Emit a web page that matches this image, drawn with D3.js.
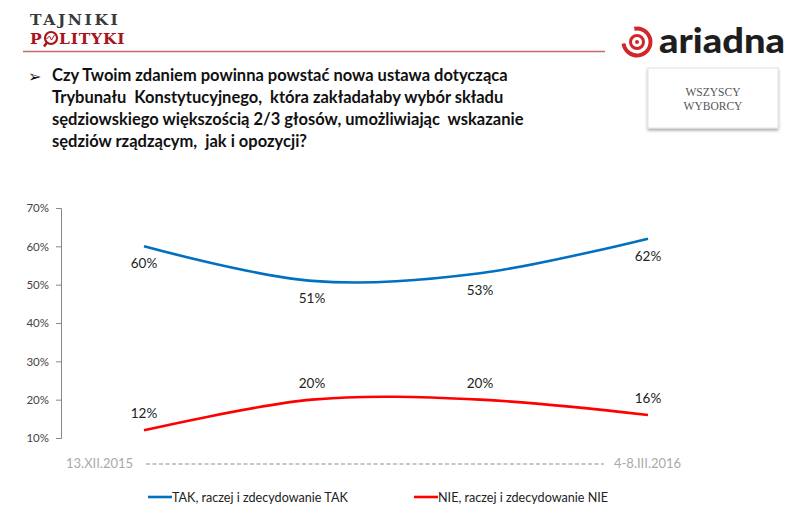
<!DOCTYPE html>
<html><head><meta charset="utf-8">
<script src="https://cdn.jsdelivr.net/npm/d3@7"></script>
<style>
html,body{margin:0;padding:0;background:#fff;}
svg{display:block;}
</style></head>
<body>
<svg id="chart" width="788" height="528"></svg>
<script>
// ---- data ----
const waves = ["13.XII.2015", "fala 2", "fala 3", "4-8.III.2016"];
const takValues = [60, 51, 53, 62];
const nieValues = [12, 20, 20, 16];
const seriesNames = ["TAK, raczej i zdecydowanie TAK", "NIE, raczej i zdecydowanie NIE"];
const yTicks = [10, 20, 30, 40, 50, 60, 70];
const titleLines = [
  "Czy Twoim zdaniem powinna powstać nowa ustawa dotycząca",
  "Trybunału  Konstytucyjnego,  która zakładałaby wybór składu",
  "sędziowskiego większością 2/3 głosów, umożliwiając  wskazanie",
  "sędziów rządzącym,  jak i opozycji?"
];

const svg = d3.select("#chart");
const font = "Lato, 'Open Sans', sans-serif";

// ---- header ----
svg.append("text").attr("x", 30).attr("y", 25).attr("font-family", "'DejaVu Serif', serif")
  .attr("font-weight", "bold").attr("font-size", 15.5).attr("fill", "#3a3a3a")
  .attr("letter-spacing", 2.6).text("TAJNIKI");
const pol = svg.append("g");
pol.append("text").attr("x", 30).attr("y", 44).attr("font-family", "'DejaVu Serif', serif")
  .attr("font-weight", "bold").attr("font-size", 15.5).attr("fill", "#a8141c").text("P");
pol.append("circle").attr("cx", 51).attr("cy", 38).attr("r", 6).attr("fill", "none")
  .attr("stroke", "#a8141c").attr("stroke-width", 2.2);
pol.append("path").attr("d", "M46.5,39 L49.5,36 L51.5,40 L54.5,35").attr("fill", "none")
  .attr("stroke", "#a8141c").attr("stroke-width", 1);
pol.append("line").attr("x1", 47).attr("y1", 42.5).attr("x2", 44).attr("y2", 46.5)
  .attr("stroke", "#a8141c").attr("stroke-width", 2.5);
pol.append("text").attr("x", 59).attr("y", 44).attr("font-family", "'DejaVu Serif', serif")
  .attr("font-weight", "bold").attr("font-size", 15.5).attr("fill", "#a8141c")
  .attr("letter-spacing", 0.8).text("LITYKI");
svg.append("line").attr("x1", 23).attr("x2", 605).attr("y1", 51.5).attr("y2", 51.5)
  .attr("stroke", "#c46a6a").attr("stroke-width", 1.5);

// ariadna logo
const logo = svg.append("g");
const arc = d3.arc();
logo.append("path").attr("transform", "translate(637,42)")
  .attr("d", arc({innerRadius: 11.5, outerRadius: 15.5, startAngle: -0.2, endAngle: 4.6}))
  .attr("fill", "#d0272b");
logo.append("circle").attr("cx", 637).attr("cy", 42).attr("r", 6.5).attr("fill", "none")
  .attr("stroke", "#d0272b").attr("stroke-width", 3);
logo.append("circle").attr("cx", 637).attr("cy", 42).attr("r", 2).attr("fill", "#d0272b");
logo.append("text").attr("x", 659).attr("y", 53).attr("font-family", "Lato, sans-serif")
  .attr("font-weight", "900").attr("font-size", 35).attr("fill", "#1e1e1e")
  .attr("textLength", 126).attr("lengthAdjust", "spacingAndGlyphs").text("ariadna");

// box WSZYSCY WYBORCY
const defs = svg.append("defs");
const f = defs.append("filter").attr("id", "sh").attr("x", "-20%").attr("y", "-20%").attr("width", "140%").attr("height", "150%");
f.append("feDropShadow").attr("dx", 0).attr("dy", 2).attr("stdDeviation", 1.5).attr("flood-color", "#000").attr("flood-opacity", 0.35);
svg.append("rect").attr("x", 648).attr("y", 68).attr("width", 130).attr("height", 60)
  .attr("fill", "#fff").attr("stroke", "#e2e2e2").attr("filter", "url(#sh)");
["WSZYSCY", "WYBORCY"].forEach((t, i) => {
  svg.append("text").attr("x", 713).attr("y", 96 + i * 14).attr("text-anchor", "middle")
    .attr("font-family", "'Liberation Serif', serif").attr("font-size", 11.5).attr("fill", "#555")
    .text(t);
});

// ---- title ----
svg.append("text").attr("x", 28).attr("y", 82).attr("font-family", "'DejaVu Sans', sans-serif")
  .attr("font-size", 16).attr("fill", "#111").text("➢");
titleLines.forEach((t, i) => {
  svg.append("text").attr("x", 52).attr("y", 81 + i * 22).attr("font-family", font)
    .attr("font-weight", "bold").attr("font-size", 16.5).attr("fill", "#111")
    .attr("xml:space", "preserve").style("white-space", "pre").text(t);
});

// ---- chart ----
const x = d3.scalePoint().domain(waves).range([144, 648]);
const y = d3.scaleLinear().domain([10, 70]).range([438, 208]);

const yAxis = d3.axisLeft(y).tickValues(yTicks).tickFormat(d => d + "%").tickSize(5).tickPadding(7);
const ga = svg.append("g").attr("transform", "translate(61,0)").call(yAxis);
ga.select(".domain").attr("stroke", "#888").attr("stroke-width", 1);
ga.selectAll(".tick line").attr("stroke", "#888");
ga.selectAll(".tick text").attr("font-family", font).attr("font-size", 11.5).attr("fill", "#444");

const line = d3.line().x((d, i) => x(waves[i])).y(d => y(d)).curve(d3.curveCatmullRom.alpha(0.5));

const series = [
  {values: takValues, color: "#0070c0", dy: 22},
  {values: nieValues, color: "#ff0000", dy: -12}
];
series.forEach(s => {
  svg.append("path").datum(s.values).attr("d", line).attr("fill", "none")
    .attr("stroke", s.color).attr("stroke-width", 2.6).attr("stroke-linecap", "butt");
  svg.append("g").selectAll("text").data(s.values).join("text")
    .attr("x", (d, i) => x(waves[i]))
    .attr("y", d => y(d) + s.dy)
    .attr("text-anchor", "middle").attr("font-family", font).attr("font-size", 13.5)
    .attr("fill", "#222").text(d => d + "%");
});

// date range row
const firstLast = [waves[0], waves[waves.length - 1]];
svg.append("text").attr("x", 66).attr("y", 468).attr("font-family", font).attr("font-size", 13)
  .attr("fill", "#aaa").text(firstLast[0]);
svg.append("line").attr("x1", 146).attr("x2", 604).attr("y1", 464).attr("y2", 464)
  .attr("stroke", "#b5b5b5").attr("stroke-width", 1.6).attr("stroke-dasharray", "4,2.5");
svg.append("text").attr("x", 614).attr("y", 468).attr("font-family", font).attr("font-size", 13)
  .attr("fill", "#aaa").text(firstLast[1]);

// legend
const legendX = [148, 414];
seriesNames.forEach((n, i) => {
  const g = svg.append("g").attr("transform", `translate(${legendX[i]},497)`);
  g.append("line").attr("x1", 0).attr("x2", 24).attr("y1", 0).attr("y2", 0)
    .attr("stroke", series[i].color).attr("stroke-width", 2.6);
  g.append("text").attr("x", 24).attr("y", 5).attr("font-family", font).attr("font-size", 12.6)
    .attr("fill", "#222").text(n);
});
</script>
</body></html>
